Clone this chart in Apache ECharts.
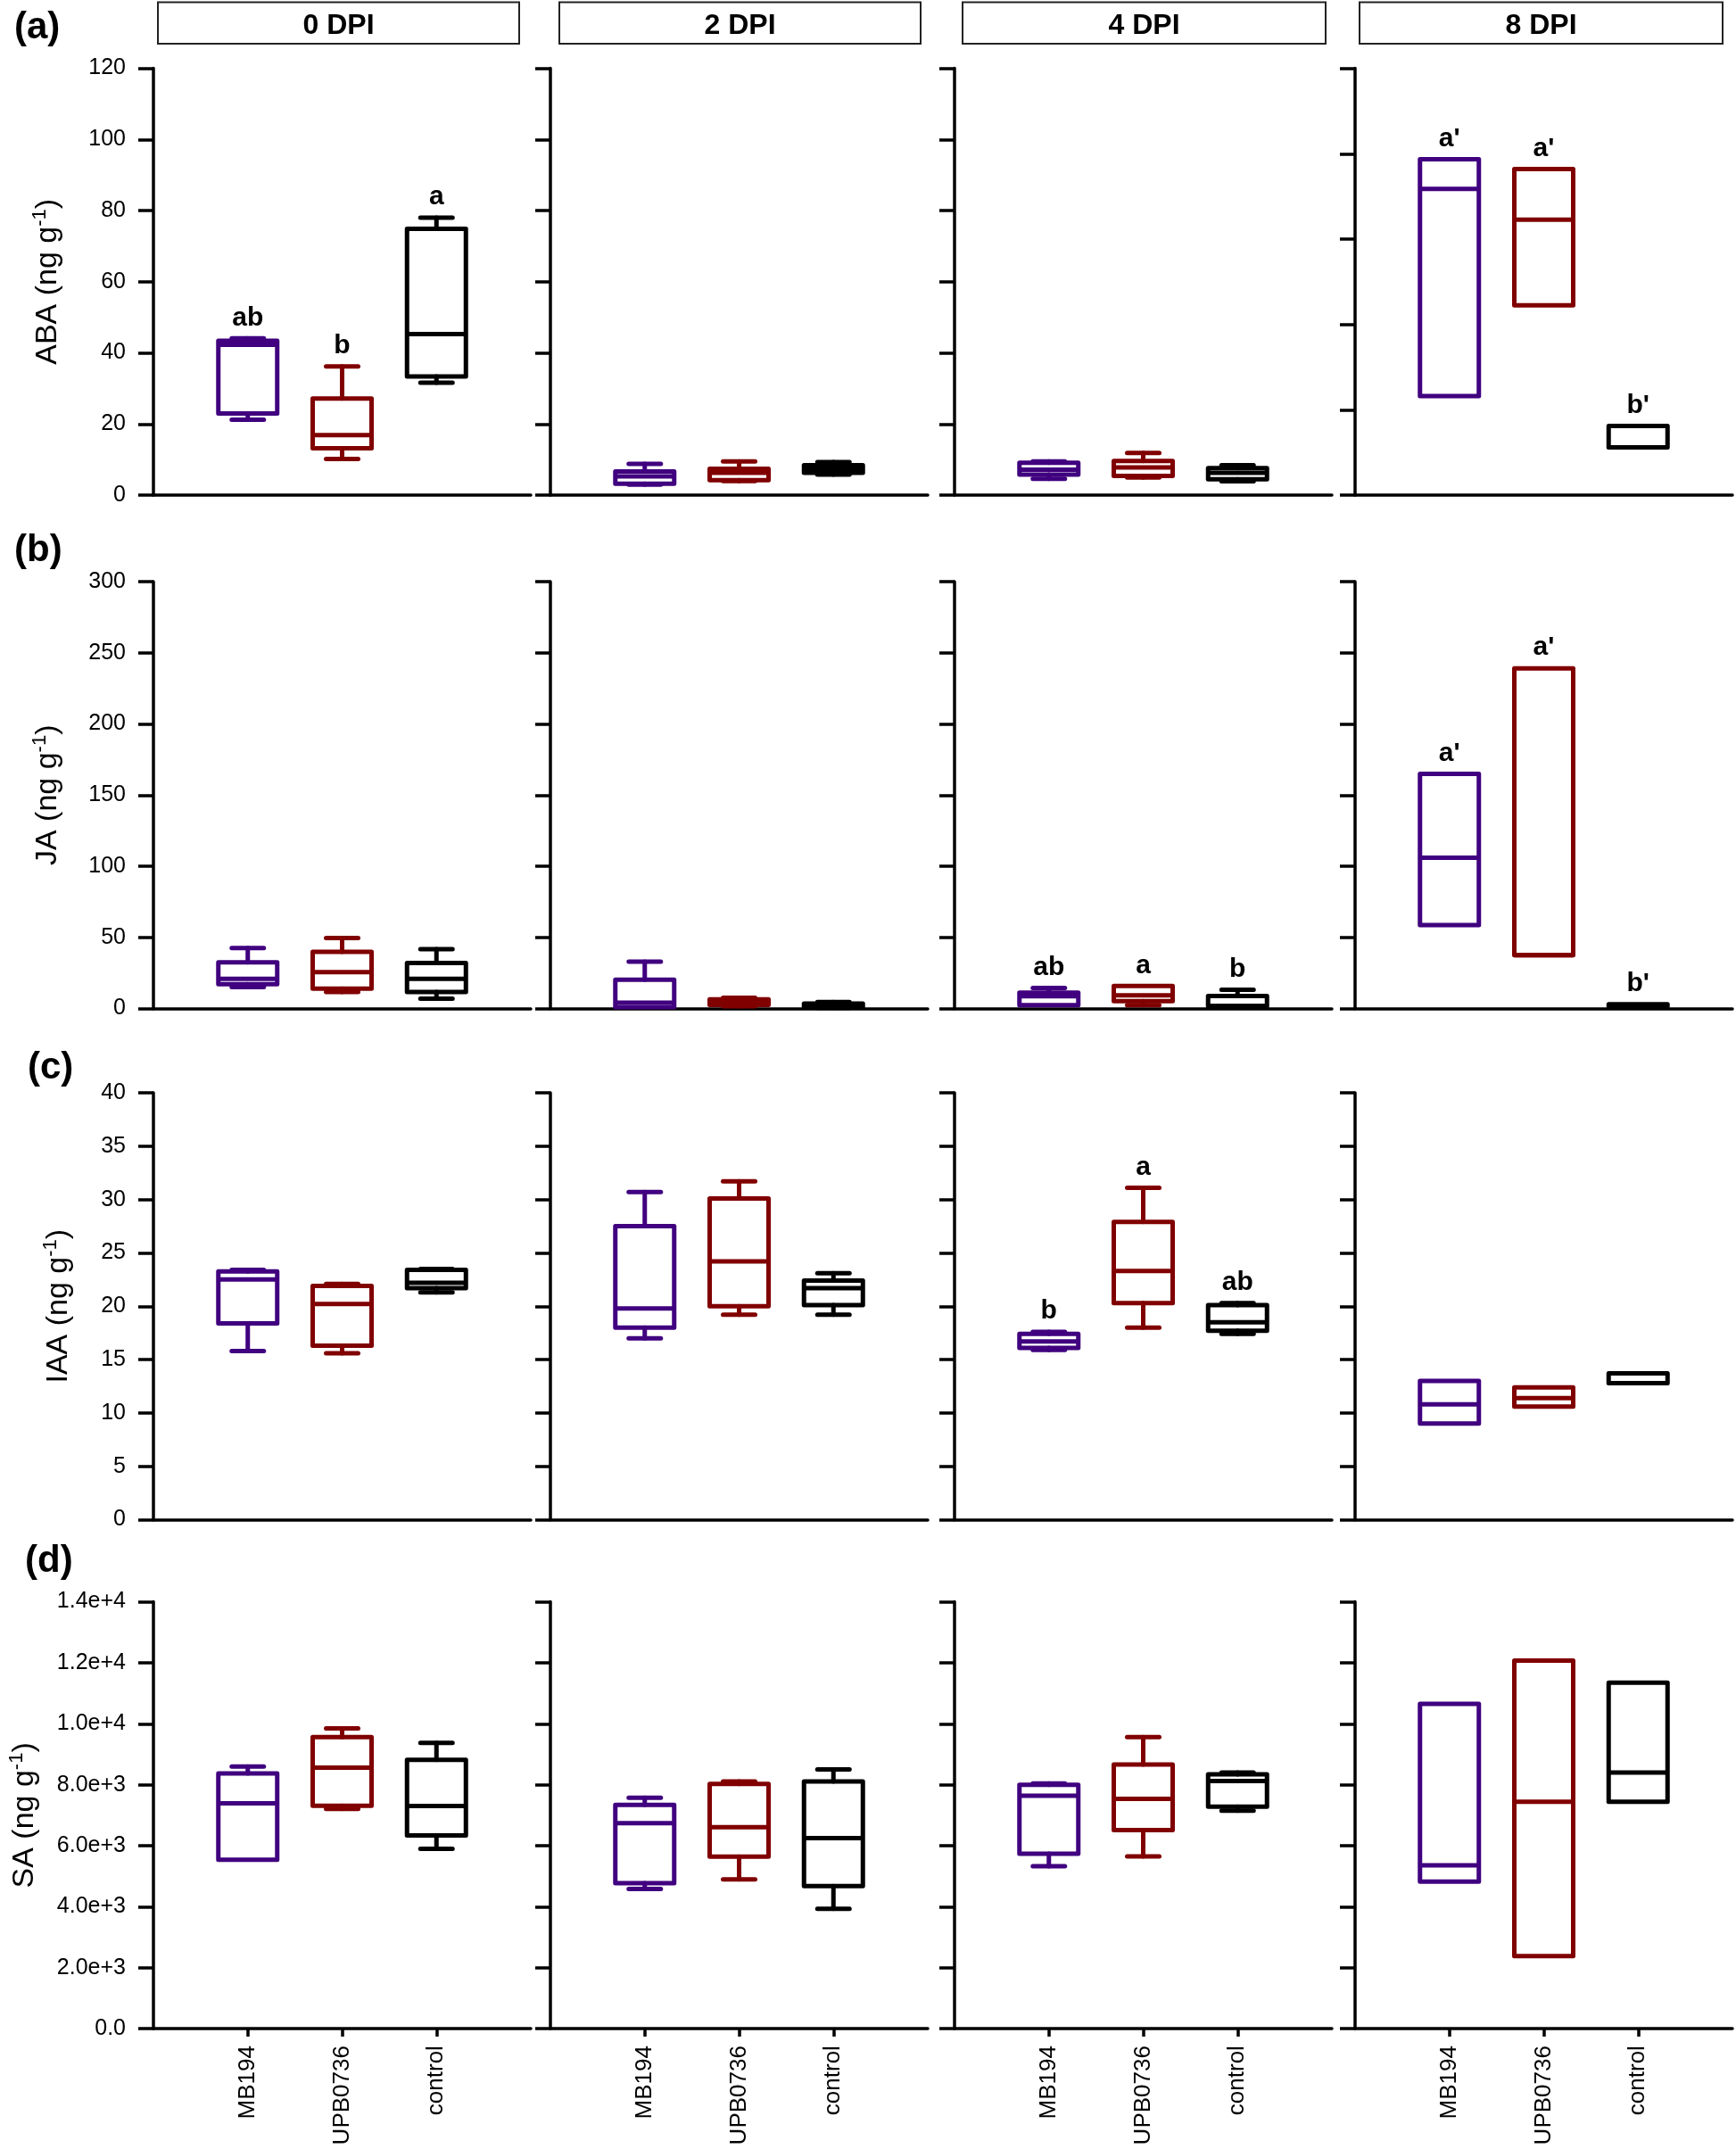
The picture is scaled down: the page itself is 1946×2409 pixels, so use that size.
<!DOCTYPE html>
<html>
<head>
<meta charset="utf-8">
<script src="https://cdn.jsdelivr.net/npm/echarts@6/dist/echarts.min.js"></script>
<style>
  html, body { margin: 0; padding: 0; background: #fff; }
  #chart { width: 1946px; height: 2409px; }
</style>
</head>
<body>
<div id="chart"></div>
<script>
const groups = ['MB194', 'UPB0736', 'control']
const groupColors = ['#40007f', '#800000', '#000000']
const dpiLabels = ['0 DPI', '2 DPI', '4 DPI', '8 DPI']
const rowLetters = ['(a)', '(b)', '(c)', '(d)']
const hormones = ['ABA', 'JA', 'IAA', 'SA']

// each box: [min, Q1, median, Q3, max] for MB194, UPB0736, control
const aba0 = [[21.2, 23.0, 42.3, 43.4, 44.1], [10.2, 13.2, 16.9, 27.2, 36.2], [31.6, 33.4, 45.3, 74.9, 78.0]]
const aba2 = [[3.0, 3.2, 5.3, 6.7, 8.8], [4.0, 4.2, 6.3, 7.4, 9.5], [5.8, 6.3, 7.4, 8.4, 9.3]]
const aba4 = [[4.6, 5.8, 7.2, 9.1, 9.5], [5.0, 5.4, 7.8, 9.6, 11.9], [3.9, 4.5, 6.3, 7.6, 8.4]]
const aba8 = [[58.0, 58.0, 179.4, 196.8, 196.8], [111.2, 111.2, 161.4, 191.0, 191.0], [28.0, 28.0, 40.6, 40.6, 40.6]]

const ja0 = [[15.1, 17.1, 20.8, 32.4, 42.4], [11.6, 13.9, 25.5, 39.8, 49.6], [6.9, 11.6, 20.8, 32.0, 41.7]]
const ja2 = [[0.8, 1.0, 4.0, 20.2, 32.9], [1.5, 2.5, 4.5, 6.5, 7.5], [0.5, 1.0, 2.5, 3.5, 4.5]]
const ja4 = [[2.0, 2.3, 8.6, 11.1, 14.4], [2.3, 5.1, 9.3, 15.8, 15.8], [1.4, 1.6, 1.8, 8.8, 13.2]]
const ja8 = [[58.6, 58.6, 105.9, 164.9, 164.9], [37.5, 37.5, 37.5, 239.1, 239.1], [1.5, 1.5, 2.0, 3.0, 3.0]]

const iaa0 = [[15.8, 18.4, 22.5, 23.25, 23.4], [15.6, 16.3, 20.2, 21.9, 22.1], [21.3, 21.7, 22.2, 23.4, 23.5]]
const iaa2 = [[17.0, 18.0, 19.8, 27.5, 30.7], [19.2, 20.0, 24.2, 30.1, 31.7], [19.2, 20.1, 21.7, 22.4, 23.1]]
const iaa4 = [[15.9, 16.1, 16.7, 17.4, 17.6], [18.0, 20.3, 23.3, 27.9, 31.1], [17.4, 17.7, 18.5, 20.1, 20.3]]
const iaa8 = [[9.0, 9.0, 10.8, 13.0, 13.0], [10.6, 10.6, 11.4, 12.4, 12.4], [12.8, 12.8, 12.8, 13.7, 13.7]]

const sa0 = [[5540, 5540, 7390, 8370, 8600], [7210, 7310, 8560, 9560, 9850], [5900, 6340, 7300, 8820, 9370]]
const sa2 = [[4580, 4770, 6740, 7340, 7570], [4900, 5640, 6610, 8030, 8110], [3930, 4680, 6250, 8110, 8500]]
const sa4 = [[5330, 5740, 7640, 8000, 8040], [5650, 6510, 7540, 8660, 9560], [7150, 7280, 8120, 8340, 8400]]
const sa8 = [[4820, 4820, 5360, 10650, 10650], [2380, 2380, 7440, 12070, 12070], [7440, 7440, 8400, 11350, 11350]]

// significance letters
const abaLetters0 = ['ab', 'b', 'a']
const abaLetters8 = ["a'", "a'", "b'"]
const jaLetters4 = ['ab', 'a', 'b']
const jaLetters8 = ["a'", "a'", "b'"]
const iaaLetters4 = ['b', 'a', 'ab']

const rowData = [
  [aba0, aba2, aba4, aba8],
  [ja0, ja2, ja4, ja8],
  [iaa0, iaa2, iaa4, iaa8],
  [sa0, sa2, sa4, sa8]
]
const rowLettersData = [
  [abaLetters0, null, null, abaLetters8],
  [null, null, jaLetters4, jaLetters8],
  [null, null, iaaLetters4, null],
  [null, null, null, null]
]
const axisMax = [[120, 120, 120, 250], [300, 300, 300, 300], [40, 40, 40, 40], [14000, 14000, 14000, 14000]]
const axisStep = [[20, 20, 20, 50], [50, 50, 50, 50], [5, 5, 5, 5], [2000, 2000, 2000, 2000]]

// layout
const FONT = '"Liberation Sans", Arial, Helvetica, sans-serif'
const panelLeft = [172, 617, 1070, 1519]
const panelWidth = 423
const rowTop = [76.6, 652, 1225, 1795.6]
const rowHeight = 478.5
const nameGaps = [98, 98, 86, 124]
const LW = 5

const chart = echarts.init(document.getElementById('chart'))

const boxRenderer = (letters) => (params, api) => {
  const xi = api.value(0)
  const color = groupColors[xi - 1]
  const pts = [1, 2, 3, 4, 5].map((k) => api.coord([xi, api.value(k)]))
  const cx = pts[0][0]
  const [yMin, yQ1, yMed, yQ3, yMax] = pts.map((p) => p[1])
  const hw = 33
  const cap = 18
  const lineStyle = { stroke: color, lineWidth: LW, lineCap: 'round' }
  const children = [
    { type: 'rect', shape: { x: cx - hw, y: yQ3, width: hw * 2, height: yQ1 - yQ3 }, style: { fill: 'none', stroke: color, lineWidth: LW, lineJoin: 'round' } },
    { type: 'line', shape: { x1: cx - hw, y1: yMed, x2: cx + hw, y2: yMed }, style: { stroke: color, lineWidth: LW } }
  ]
  if (yQ3 - yMax > 0.5) {
    children.push({ type: 'line', shape: { x1: cx, y1: yQ3, x2: cx, y2: yMax }, style: lineStyle })
    children.push({ type: 'line', shape: { x1: cx - cap, y1: yMax, x2: cx + cap, y2: yMax }, style: lineStyle })
  }
  if (yMin - yQ1 > 0.5) {
    children.push({ type: 'line', shape: { x1: cx, y1: yQ1, x2: cx, y2: yMin }, style: lineStyle })
    children.push({ type: 'line', shape: { x1: cx - cap, y1: yMin, x2: cx + cap, y2: yMin }, style: lineStyle })
  }
  if (letters && letters[xi - 1]) {
    children.push({
      type: 'text',
      x: cx,
      y: Math.min(yMax, yQ3) - 8,
      style: { text: letters[xi - 1], font: 'bold 30px ' + FONT, fill: '#000', align: 'center', verticalAlign: 'bottom' }
    })
  }
  return { type: 'group', children }
}

const grid = []
const xAxis = []
const yAxis = []
const series = []

rowData.forEach((row, r) => {
  row.forEach((boxes, p) => {
    const idx = r * 4 + p
    const lastRow = r === 3
    grid.push({
      left: panelLeft[p],
      top: rowTop[r],
      width: panelWidth,
      height: rowHeight,
      outerBoundsMode: 'none',
      containLabel: false
    })
    xAxis.push({
      type: 'category',
      gridIndex: idx,
      data: ['', ...groups, ''],
      boundaryGap: false,
      axisLine: { show: true, onZero: false, lineStyle: { color: '#000', width: 3.5 } },
      axisTick: {
        show: lastRow,
        length: 9,
        interval: (i) => i >= 1 && i <= 3,
        lineStyle: { color: '#000', width: 3.5 }
      },
      axisLabel: {
        show: lastRow,
        rotate: 90,
        margin: 19,
        interval: 0,
        fontSize: 26,
        fontFamily: FONT,
        color: '#000'
      },
      splitLine: { show: false }
    })
    const name = p === 0 ? `{n|${hormones[r]} (ng g}{s|-1}{n|)}` : ''
    yAxis.push({
      type: 'value',
      gridIndex: idx,
      min: 0,
      max: axisMax[r][p],
      interval: axisStep[r][p],
      name,
      nameLocation: 'middle',
      nameRotate: 90,
      nameGap: nameGaps[r],
      nameMoveOverlap: false,
      nameTextStyle: {
        rich: {
          n: { fontSize: 34, fontFamily: FONT, color: '#000', lineHeight: 40 },
          s: { fontSize: 22, fontFamily: FONT, color: '#000', lineHeight: 24, verticalAlign: 'top' }
        }
      },
      axisLine: { show: true, lineStyle: { color: '#000', width: 3.5 } },
      axisTick: { show: true, inside: false, length: 17, lineStyle: { color: '#000', width: 3.5 } },
      axisLabel: {
        show: p === 0,
        margin: 31,
        fontSize: 25,
        fontFamily: FONT,
        color: '#000',
        formatter: (v) => (r === 3 ? (v === 0 ? '0.0' : v.toExponential(1)) : String(v))
      },
      splitLine: { show: false }
    })
    series.push({
      type: 'custom',
      xAxisIndex: idx,
      yAxisIndex: idx,
      coordinateSystem: 'cartesian2d',
      encode: { x: 0, y: [1, 2, 3, 4, 5] },
      data: boxes.map((b, i) => [i + 1, ...b]),
      renderItem: boxRenderer(rowLettersData[r][p]),
      silent: true,
      clip: false
    })
  })
})

// strip headers over the first row, and row letters
const stripLeft = [177, 627, 1079, 1524]
const stripRight = [582, 1032, 1486, 1931]
const letterPos = [[16, 10], [16, 596], [31, 1176], [28, 1729]]
const graphic = []
dpiLabels.forEach((label, p) => {
  graphic.push({
    type: 'rect',
    shape: { x: stripLeft[p], y: 2.5, width: stripRight[p] - stripLeft[p], height: 46.5 },
    style: { fill: '#fff', stroke: '#222', lineWidth: 2 }
  })
  graphic.push({
    type: 'text',
    x: (stripLeft[p] + stripRight[p]) / 2,
    y: 29,
    style: { text: label, font: 'bold 32px ' + FONT, fill: '#000', align: 'center', verticalAlign: 'middle' }
  })
})
rowLetters.forEach((t, r) => {
  graphic.push({
    type: 'text',
    x: letterPos[r][0],
    y: letterPos[r][1],
    style: { text: t, font: 'bold 42px ' + FONT, fill: '#000', align: 'left', verticalAlign: 'top' }
  })
})

chart.setOption({
  backgroundColor: '#fff',
  animation: false,
  grid,
  xAxis,
  yAxis,
  series,
  graphic
})
</script>
</body>
</html>
